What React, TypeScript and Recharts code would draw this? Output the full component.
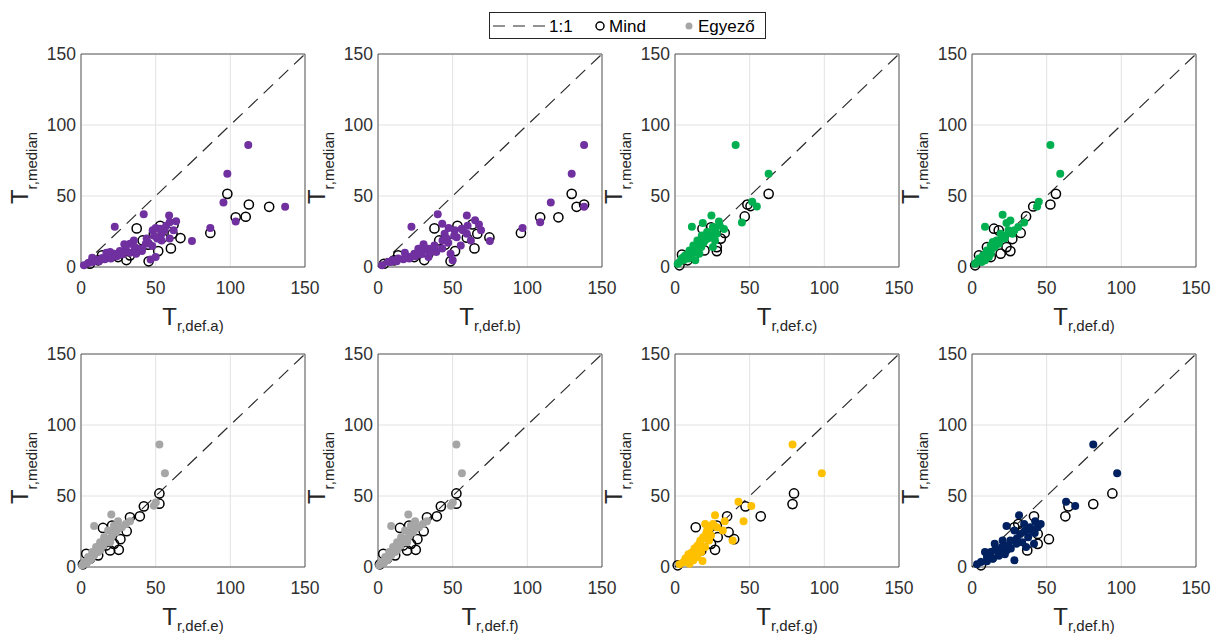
import React from 'react';
import {
  ScatterChart,
  Scatter,
  XAxis,
  YAxis,
  CartesianGrid,
  ReferenceLine,
  ReferenceArea,
  Label,
} from 'recharts';

type Pt = [number, number];

const axisTicks = [0, 50, 100, 150];
const panelLetters = ['a)', 'b)', 'c)', 'd)', 'e)', 'f)', 'g)', 'h)'];
const panelColors = ['#7030A0', '#7030A0', '#00B050', '#00B050', '#A6A6A6', '#A6A6A6', '#FFC000', '#002060'];
const legendLabels = ['1:1', 'Mind', 'Egyező'];

// ---- panel a) ----
const mindA: Pt[] = [
  [98, 51.5], [112.4, 44], [126, 42.4], [103.6, 35], [110.3, 35.4], [86.6, 24], [66.6, 20.4],
  [37.3, 27.2], [53, 29], [45, 15.7], [45.3, 4], [60.2, 13.1], [51.7, 11.2], [61.3, 23.4],
  [14.1, 8.2], [6, 2.3], [30.4, 4.9], [48.8, 23.4], [54.6, 20.6], [41.3, 18.7], [62, 30],
  [32.8, 8.2], [24.8, 7], [11.5, 4.7],
];
const egyA: Pt[] = [
  [112, 86], [98, 65.6], [95.4, 45.4], [136.7, 42.4], [103.6, 32], [86.6, 27.4], [74.3, 18.3],
  [22.6, 28.3], [59, 36.3], [63.7, 32.3], [42, 37.2], [48, 25.8], [50, 27.4], [56, 25.8],
  [62, 25.8], [54, 18.7], [59.4, 20], [47.7, 14.8], [46.6, 5.2], [50, 7], [40.8, 11.2],
  [35.4, 18.7], [32.8, 16.4], [30, 12.9], [26, 11.2], [22, 9.4], [18, 7.5], [14, 6.3],
  [10, 5.2], [7.5, 6.6], [4.8, 2.8], [2, 1.2], [38, 12.9], [43.4, 16.4], [54, 23.4],
  [59.4, 31.6], [51, 20], [37, 9.4], [19.5, 10.5], [25, 8.2], [8, 3.5], [12, 4], [16, 5.5],
  [20, 6], [24, 7.5], [28, 9], [33, 10], [36, 14], [41, 13], [45, 17], [49, 22], [53, 27],
  [57, 29], [44, 20], [29, 16], [17, 10],
];

// ---- panel b) ----
const mindB: Pt[] = [
  [129.7, 51.5], [138, 44], [133, 42.4], [120.8, 35], [108.6, 35], [95.7, 24], [74.6, 20.8],
  [37.8, 27.2], [53.2, 29], [44.9, 15.7], [48.6, 4], [64.6, 13.1], [51.6, 11.2], [66.5, 23.4],
  [13.5, 8.2], [4, 2.3], [31, 4.9], [48.6, 23.4], [59.5, 20.6], [41, 18.7], [63.2, 30],
  [33.8, 9.4], [24.3, 7], [10.8, 4.7],
];
const egyB: Pt[] = [
  [138, 86], [129.7, 65.6], [115.7, 45.4], [138, 42.4], [108.6, 31.6], [96.8, 27.4], [74.9, 18.3],
  [22.4, 28.3], [59.5, 36.3], [40, 37.2], [65, 33], [67.6, 30], [47.3, 27.4], [51.4, 25.8],
  [56.8, 25.8], [62.2, 18.7], [55.4, 15.2], [48.6, 9.4], [50, 4.7], [43.2, 18.7], [37.8, 15.2],
  [33.8, 12.9], [29.7, 11.2], [24.3, 9.4], [18.9, 7.5], [13.5, 5.9], [9.5, 4.7], [6.8, 3.5],
  [2.7, 1.2], [39, 10.5], [59.5, 23.4], [44.6, 23.4], [27, 12.9], [21.6, 7], [52.7, 21],
  [69, 25.8], [43, 30.5], [33.8, 7], [8.5, 3.5], [12.5, 4], [17, 5.5], [21, 6], [25, 7.5],
  [29, 9], [34.5, 10], [38, 14], [43, 13], [47, 17], [51, 22], [56, 27], [60, 29], [46, 20],
  [30.5, 16], [18, 10],
];

// ---- panel c) ----
const mindC: Pt[] = [
  [62.7, 51.5], [48.5, 44], [50.6, 42.9], [46.7, 35.6], [18.4, 27], [33.3, 24], [28, 11.2],
  [19.7, 11.7], [4.7, 8.7], [30.7, 20], [24.1, 28], [15, 14], [12.3, 7], [8.4, 4.7], [28, 14],
  [3, 1.2],
];
const egyC: Pt[] = [
  [40.6, 86], [62.7, 65.6], [51.7, 46], [54.8, 42.6], [44.8, 31.4], [11.3, 28.3], [24.4, 36.3],
  [18.6, 31], [29.4, 32], [32.8, 26.7], [25.4, 28.1], [21.5, 24.6], [28, 23.4], [18, 22.2],
  [15, 18.7], [20, 18.7], [12.3, 15.2], [25.4, 14], [9.7, 11.7], [7, 8.2], [4.5, 5.9],
  [1.8, 2.3], [13.6, 4.7], [16.3, 9.4], [3.1, 3.5], [22.8, 21], [17.6, 14], [11, 9.4],
  [26.8, 18.7], [5.8, 7], [6, 5], [8, 7], [10, 9], [12, 11], [14, 13], [16, 15], [19, 17],
  [22, 20], [24, 23], [27, 25], [30, 29], [9, 6], [13, 10],
];

// ---- panel d) ----
const mindD: Pt[] = [
  [56.2, 51.5], [52.5, 44], [41, 42.6], [36.2, 35.6], [14.7, 27], [32.6, 24], [25.7, 11.2],
  [27, 19.7], [17.9, 25.8], [10, 14], [4.7, 8.2], [12.6, 7], [23.1, 14], [2.1, 1.2], [19.2, 9.4],
];
const egyD: Pt[] = [
  [52.5, 86], [59.1, 65.6], [44.7, 46], [43.6, 42.6], [34.9, 31.4], [8.7, 28.3], [20.5, 36.8],
  [25.7, 32.8], [23.1, 30.9], [28.4, 25.8], [24.4, 25.8], [19.2, 23.4], [21.8, 20], [16.5, 18.7],
  [12.6, 15.2], [15.2, 14], [10, 11.7], [7.4, 8.2], [4.7, 5.9], [2.1, 2.3], [12.6, 9.4],
  [8.7, 4.7], [27, 23.4], [17.9, 16.4], [3.4, 3.5], [31, 28.1], [11.3, 7], [13.9, 17.6],
  [5.5, 5], [7.5, 7], [9.5, 9], [11.5, 11], [13.5, 13], [15.5, 15], [18, 17], [20, 20],
  [22, 22], [25, 24], [6.5, 3.5],
];

// ---- panel e) and f) ----
const mindE: Pt[] = [
  [52.5, 51.8], [52.5, 44.6], [42.1, 42.7], [39.4, 35.7], [32.8, 35], [14.7, 27.5], [30.6, 25.2],
  [26.4, 19.6], [25.3, 12.1], [22.1, 16.3], [3.5, 9.3], [20.8, 29.2], [16.8, 15.2], [11.5, 8.2],
  [6.1, 5.8], [1.3, 1.9], [19.5, 11.7],
];
const egyE: Pt[] = [
  [52.5, 86.3], [56.2, 66], [50.1, 45.5], [48.8, 43.2], [8.8, 28.9], [20.3, 36.9], [24.8, 32.2],
  [32.8, 32.2], [22.1, 29.2], [18.1, 25.7], [23.4, 24.5], [15.5, 21], [12.8, 17.5], [10.1, 14],
  [7.5, 10.5], [4.8, 7], [2.1, 3.5], [19.5, 17.5], [14.7, 16.3], [11.5, 10.5], [8.8, 8.2],
  [6.1, 4.7], [0.8, 1.2], [27.4, 28], [30, 30.3], [16.8, 19.8], [20.8, 22.2], [3.5, 2.3],
  [5, 5], [7, 6], [9, 9], [11, 11], [13, 12], [15, 15], [17, 18], [20, 20], [22, 24], [25, 27],
  [4, 3],
];
const mindF: Pt[] = mindE;
const egyF: Pt[] = egyE;

// ---- panel g) ----
const mindG: Pt[] = [
  [79.7, 51.8], [78.7, 44.3], [47.2, 42.7], [57.4, 35.7], [34.9, 35.7], [13.9, 28], [28.6, 21],
  [39.6, 19.6], [26.8, 12.1], [35.9, 24.5], [17.6, 11.7], [24.1, 16.3], [9.7, 7], [1.8, 1.2],
  [28, 29.2],
];
const egyG: Pt[] = [
  [78.7, 86.3], [98.3, 66], [42.5, 46], [51.1, 42.9], [45.9, 32.2], [26.8, 36.4], [38.6, 18.7],
  [18.4, 4.2], [33.3, 32.2], [32, 25.7], [25.4, 30.3], [20.2, 30.3], [21.5, 25.7], [18.9, 21],
  [22.8, 18.7], [16.3, 16.3], [20.2, 14], [13.6, 11.7], [17.6, 10.5], [11, 8.2], [8.4, 5.8],
  [5.8, 3.5], [3.1, 1.9], [15, 7], [12.3, 4.7], [28, 28], [17, 18.7], [9.7, 2.3], [24.1, 22.2],
  [7, 6], [9, 9], [11, 10], [13, 13], [15, 15], [17, 17], [19, 20], [21, 24], [23, 27], [10, 5],
  [14, 8],
];

// ---- panel h) ----
const mindH: Pt[] = [
  [94, 51.8], [81.2, 44.3], [64.6, 42.7], [62.5, 35.7], [41.5, 35.7], [28.4, 28], [51.5, 19.6],
  [37, 11.7], [44, 16.3], [44, 23.3], [31, 30.3], [21.8, 14], [12.6, 9.3], [6, 1.2], [33.6, 25.7],
];
const egyH: Pt[] = [
  [81.2, 86.3], [97.2, 66], [63, 46], [69.1, 42.9], [31.5, 36.4], [23.1, 28.9], [42.3, 32.2],
  [38.9, 28], [34.9, 30.3], [28.4, 25.7], [32.3, 23.3], [20.5, 18.7], [25.7, 18.7], [29.7, 16.3],
  [15.2, 16.3], [17.9, 11.7], [12.6, 10.5], [10, 7], [6, 3.5], [3.4, 1.9], [44, 28], [41.5, 16.3],
  [36.2, 14], [28.4, 4.7], [23.1, 11.7], [37.6, 21], [46, 30.3], [8.7, 10.5], [24.4, 15.2],
  [13.9, 5.8], [33.6, 17.5], [10, 4], [14, 6], [18, 8], [22, 9], [26, 13], [30, 20], [35, 25],
  [39, 26], [42, 24], [16, 12], [20, 14],
];

const mindSets = [mindA, mindB, mindC, mindD, mindE, mindF, mindG, mindH];
const egySets = [egyA, egyB, egyC, egyD, egyE, egyF, egyG, egyH];

const FONT = '"Liberation Sans", Arial, Helvetica, sans-serif';
const TEXT = '#262626';

const toObjs = (pts: Pt[]) => pts.map(([x, y]) => ({ x, y }));

const OpenCircle = (props: any) => (
  <circle cx={props.cx} cy={props.cy} r={4.6} fill="none" stroke="#000" strokeWidth={1.5} />
);

const makeDot = (color: string) => (props: any) => (
  <circle cx={props.cx} cy={props.cy} r={4} fill={color} stroke="none" />
);

const makeXTitle = (sub: string) => (props: any) => {
  const vb = props.viewBox || {};
  const cx = vb.x + vb.width / 2;
  const y = vb.y + 58;
  return (
    <text x={cx} y={y} textAnchor="middle" fill={TEXT} fontFamily={FONT}>
      <tspan fontSize={24}>T</tspan>
      <tspan fontSize={15} dy={6}>{sub}</tspan>
    </text>
  );
};

const YTitle = (props: any) => {
  const vb = props.viewBox || {};
  const x = 28;
  const y = vb.y + 114;
  return (
    <text
      x={x}
      y={y}
      transform={`rotate(-90, ${x}, ${y})`}
      textAnchor="middle"
      fill={TEXT}
      fontFamily={FONT}
    >
      <tspan fontSize={24}>T</tspan>
      <tspan fontSize={15} dy={9}>r,median</tspan>
    </text>
  );
};

const Panel = ({ idx }: { idx: number }) => {
  const col = idx % 4;
  const row = Math.floor(idx / 4);
  const color = panelColors[idx];
  const tickStyle = { fontSize: 17.5, fill: '#303030', fontFamily: FONT };
  return (
    <div style={{ position: 'absolute', left: col * 297, top: row * 300 }}>
      <ScatterChart width={335} height={340} margin={{ top: 54, right: 30, bottom: 0, left: 0 }}>
        <CartesianGrid stroke="#e2e2e2" strokeWidth={1} />
        <XAxis
          type="number"
          dataKey="x"
          domain={[0, 150]}
          ticks={axisTicks}
          height={73}
          tickLine={false}
          axisLine={false}
          tickSize={0}
          tickMargin={15}
          tick={tickStyle}
          interval={0}
        >
          <Label content={makeXTitle('r,def.' + panelLetters[idx])} />
        </XAxis>
        <YAxis
          type="number"
          dataKey="y"
          domain={[0, 150]}
          ticks={axisTicks}
          width={81}
          tickLine={false}
          axisLine={false}
          tickSize={0}
          tickMargin={5}
          tick={tickStyle}
          interval={0}
        >
          <Label content={YTitle} />
        </YAxis>
        <ReferenceArea
          x1={0}
          x2={150}
          y1={0}
          y2={150}
          fill="none"
          fillOpacity={0}
          stroke="#5a5a5a"
          strokeWidth={1}
          ifOverflow="visible"
        />
        <ReferenceLine
          segment={[{ x: 0, y: 0 }, { x: 150, y: 150 }]}
          stroke="#2a2a2a"
          strokeWidth={1.2}
          strokeDasharray="13 8"
          ifOverflow="visible"
        />
        <Scatter data={toObjs(mindSets[idx])} shape={OpenCircle} isAnimationActive={false} />
        <Scatter data={toObjs(egySets[idx])} shape={makeDot(color)} isAnimationActive={false} />
      </ScatterChart>
    </div>
  );
};

const LegendBox = () => (
  <svg
    width={1212}
    height={50}
    style={{ position: 'absolute', left: 0, top: 0 }}
    fontFamily={FONT}
  >
    <rect x={489.5} y={12.5} width={276} height={26} fill="#fff" stroke="#262626" strokeWidth={1} />
    <line x1={493} y1={26} x2={545} y2={26} stroke="#262626" strokeWidth={1.2} strokeDasharray="12 8" />
    <text x={549} y={32} fontSize={17} fill="#000">{legendLabels[0]}</text>
    <circle cx={600} cy={26} r={4} fill="none" stroke="#000" strokeWidth={1.5} />
    <text x={609} y={32} fontSize={17} fill="#000">{legendLabels[1]}</text>
    <circle cx={689} cy={26} r={3.5} fill="#A6A6A6" />
    <text x={698} y={32} fontSize={17} fill="#000">{legendLabels[2]}</text>
  </svg>
);

export default function App() {
  return (
    <div
      style={{
        position: 'absolute',
        left: 0,
        top: 0,
        width: 1212,
        height: 634,
        background: '#fff',
        overflow: 'hidden',
      }}
    >
      {panelLetters.map((_, i) => (
        <Panel key={i} idx={i} />
      ))}
      <LegendBox />
    </div>
  );
}
